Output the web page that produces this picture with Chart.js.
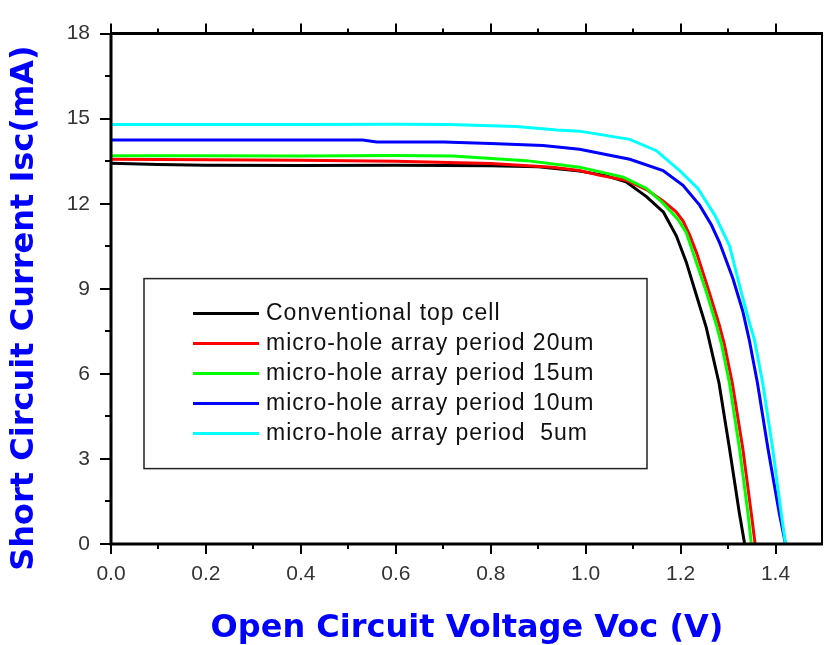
<!DOCTYPE html>
<html>
<head>
<meta charset="utf-8">
<script src="https://cdn.jsdelivr.net/npm/chart.js@4/dist/chart.umd.min.js"></script>
<style>
  body { margin: 0; background: #fff; }
  canvas { display: block; }
</style>
</head>
<body>
<canvas id="iv" width="825" height="645"></canvas>
<script>
// ── Data (V in volts, I in mA) ────────────────────────────────
const seriesLabels = [
  'Conventional top cell',
  'micro-hole array period 20um',
  'micro-hole array period 15um',
  'micro-hole array period 10um',
  'micro-hole array period  5um',
];

const convV = [0, 0.1, 0.2, 0.4, 0.6, 0.8, 0.9, 0.987, 1.04, 1.085, 1.128, 1.164, 1.191, 1.212, 1.233, 1.254, 1.281, 1.303, 1.324, 1.335];
const convI = [13.43, 13.38, 13.36, 13.35, 13.36, 13.34, 13.3, 13.15, 13.0, 12.77, 12.25, 11.7, 10.87, 9.94, 8.79, 7.64, 5.67, 3.37, 1.07, 0];

const p20V = [0, 0.2, 0.4, 0.6, 0.8, 0.93, 0.987, 1.03, 1.085, 1.128, 1.163, 1.19, 1.205, 1.219, 1.234, 1.26, 1.281, 1.292, 1.309, 1.331, 1.349, 1.357];
const p20I = [13.57, 13.55, 13.53, 13.5, 13.42, 13.29, 13.17, 13.0, 12.83, 12.5, 12.1, 11.72, 11.4, 10.9, 10.25, 8.9, 7.75, 7.06, 5.67, 3.37, 1.07, 0];

const p15V = [0, 0.2, 0.4, 0.6, 0.72, 0.875, 0.987, 1.079, 1.128, 1.163, 1.195, 1.212, 1.226, 1.254, 1.275, 1.286, 1.303, 1.324, 1.342, 1.349];
const p15I = [13.69, 13.69, 13.68, 13.7, 13.68, 13.52, 13.29, 12.94, 12.54, 12.02, 11.44, 10.98, 10.29, 8.9, 7.75, 7.06, 5.67, 3.37, 1.07, 0];

const p10V = [0, 0.2, 0.4, 0.53, 0.56, 0.7, 0.8, 0.91, 0.987, 1.093, 1.163, 1.205, 1.24, 1.265, 1.282, 1.31, 1.331, 1.345, 1.362, 1.384, 1.408, 1.421];
const p10I = [14.25, 14.25, 14.25, 14.25, 14.18, 14.18, 14.12, 14.05, 13.92, 13.57, 13.17, 12.65, 11.95, 11.25, 10.63, 9.37, 8.21, 7.17, 5.67, 3.37, 1.07, 0];

const p5V = [0, 0.2, 0.4, 0.6, 0.714, 0.854, 0.94, 0.987, 1.093, 1.149, 1.198, 1.236, 1.272, 1.303, 1.324, 1.342, 1.356, 1.373, 1.394, 1.412, 1.421];
const p5I = [14.79, 14.79, 14.79, 14.8, 14.79, 14.72, 14.6, 14.56, 14.27, 13.87, 13.17, 12.55, 11.6, 10.52, 9.13, 7.98, 7.17, 5.67, 3.37, 1.07, 0];

const xTicks = [0, 0.2, 0.4, 0.6, 0.8, 1.0, 1.2, 1.4];
const xMinorTicks = [0.1, 0.3, 0.5, 0.7, 0.9, 1.1, 1.3];
const yTicks = [0, 3, 6, 9, 12, 15, 18];
const yMinorTicks = [1.5, 4.5, 7.5, 10.5, 13.5, 16.5];

const xTitle = 'Open Circuit Voltage Voc (V)';
const yTitle = 'Short Circuit Current Isc(mA)';

// ── Styles ─────────────────────────────────────────
const colors = ['#000000', '#ff0000', '#00ff00', '#0000ff', '#00ffff'];
const drawOrder = [4, 3, 2, 1, 0]; // cyan on top
const TITLE_FONT = 'bold 32px "DejaVu Sans"';
const TICK_FONT = { family: '"Liberation Sans", Arial', size: 21 };

const pairs = (vs, is) => vs.map((v, i) => ({ x: v, y: is[i] }));
const series = [pairs(convV, convI), pairs(p20V, p20I), pairs(p15V, p15I), pairs(p10V, p10I), pairs(p5V, p5I)];

// frame, minor/major ticks, titles and legend
const decor = {
  id: 'decor',
  afterDraw(chart) {
    const { ctx, chartArea: ca, scales: { x, y } } = chart;
    ctx.save();
    ctx.strokeStyle = '#000';
    ctx.lineCap = 'butt';

    // ticks
    ctx.lineWidth = 2;
    const vtick = (v, len) => {
      const px = Math.round(x.getPixelForValue(v));
      ctx.beginPath();
      ctx.moveTo(px, ca.bottom); ctx.lineTo(px, ca.bottom + len);
      ctx.moveTo(px, ca.top); ctx.lineTo(px, ca.top - len);
      ctx.stroke();
    };
    const htick = (v, len) => {
      const py = Math.round(y.getPixelForValue(v));
      ctx.beginPath();
      ctx.moveTo(ca.left, py); ctx.lineTo(ca.left - len, py);
      ctx.stroke();
    };
    xTicks.forEach(v => vtick(v, 10));
    xMinorTicks.forEach(v => vtick(v, 5));
    yTicks.forEach(v => htick(v, 11));
    yMinorTicks.forEach(v => htick(v, 6));

    // frame
    ctx.lineWidth = 3;
    ctx.beginPath();
    ctx.moveTo(ca.left, ca.top); ctx.lineTo(ca.left, ca.bottom);
    ctx.lineTo(ca.right, ca.bottom);
    ctx.moveTo(ca.left, ca.top); ctx.lineTo(ca.right, ca.top);
    ctx.stroke();
    ctx.lineWidth = 2;
    ctx.beginPath();
    ctx.moveTo(ca.right - 1, ca.top); ctx.lineTo(ca.right - 1, ca.bottom);
    ctx.stroke();

    // axis titles
    ctx.fillStyle = '#0000ff';
    ctx.font = TITLE_FONT;
    ctx.textAlign = 'center';
    ctx.textBaseline = 'middle';
    ctx.fillText(xTitle, (ca.left + ca.right) / 2, 629);
    ctx.translate(25, 308);
    ctx.rotate(-Math.PI / 2);
    ctx.fillText(yTitle, 0, 0);
    ctx.restore();

    // legend box
    ctx.save();
    const bx = ca.left + 33, by = ca.top + 245, bw = 503, bh = 190;
    ctx.fillStyle = '#fff';
    ctx.fillRect(bx, by, bw, bh);
    ctx.strokeStyle = '#222';
    ctx.lineWidth = 1.5;
    ctx.strokeRect(bx, by, bw, bh);
    ctx.font = '23px "Liberation Sans", Arial';
    ctx.letterSpacing = '1px';
    ctx.textBaseline = 'middle';
    ctx.fillStyle = '#111';
    seriesLabels.forEach((label, i) => {
      const ry = by + 35 + i * 30;
      ctx.strokeStyle = colors[i];
      ctx.lineWidth = 3;
      ctx.beginPath();
      ctx.moveTo(bx + 49, ry); ctx.lineTo(bx + 115, ry);
      ctx.stroke();
      ctx.fillText(label, bx + 122, ry);
    });
    ctx.restore();
  }
};

new Chart(document.getElementById('iv'), {
  type: 'line',
  data: {
    datasets: series.map((pts, i) => ({
      label: seriesLabels[i],
      data: pts,
      borderColor: colors[i],
      borderWidth: 3,
      pointRadius: 0,
      tension: 0,
      fill: false,
      order: drawOrder[i],
    })),
  },
  options: {
    responsive: false,
    animation: false,
    layout: { padding: { top: 23, right: 2, left: 0, bottom: 0 } },
    plugins: { legend: { display: false }, tooltip: { enabled: false } },
    scales: {
      x: {
        type: 'linear',
        min: 0, max: 1.5,
        afterBuildTicks: s => { s.ticks = xTicks.map(v => ({ value: v })); },
        afterFit: s => { s.height = 101; },
        grid: { display: false, drawTicks: false },
        border: { display: false },
        ticks: { font: TICK_FONT, color: '#333', padding: 18, maxRotation: 0,
                 callback: v => v.toFixed(1) },
      },
      y: {
        type: 'linear',
        min: 0, max: 18,
        afterBuildTicks: s => { s.ticks = yTicks.map(v => ({ value: v })); },
        afterFit: s => { s.width = 111; },
        grid: { display: false, drawTicks: false },
        border: { display: false },
        ticks: { font: TICK_FONT, color: '#333', padding: 21,
                 callback: v => String(v) },
      },
    },
  },
  plugins: [decor],
});
</script>
</body>
</html>
